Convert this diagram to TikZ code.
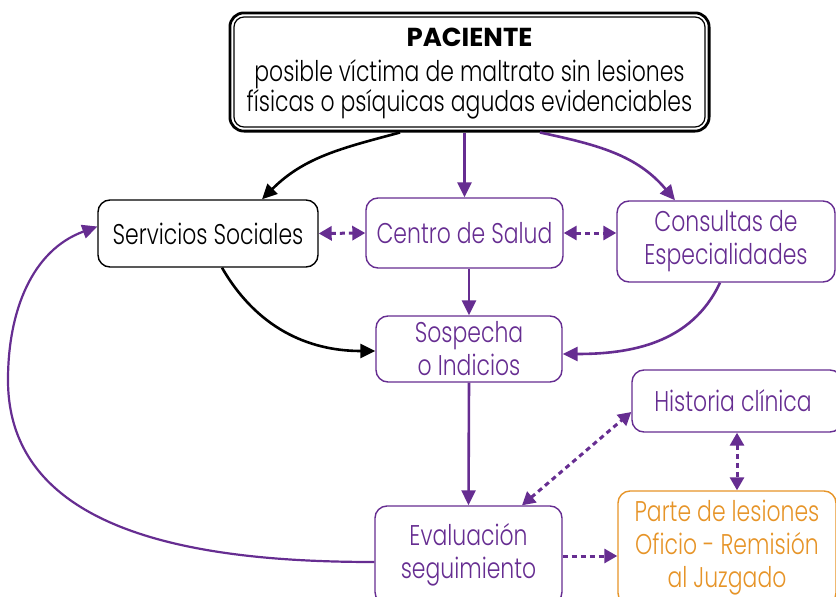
\documentclass[tikz,border=0pt]{standalone}
\usepackage{fontspec}
\setmainfont{Poppins}[UprightFont={* Light},BoldFont={* Bold},FakeStretch=0.77]
\newfontfamily\pacfont{Poppins}[UprightFont={* Bold}]
\usetikzlibrary{arrows.meta,fit,calc}
\definecolor{pur}{RGB}{102,45,145}
\definecolor{org}{RGB}{230,148,40}
\tikzset{
  box/.style={draw=pur,text=pur,line width=1.4pt,rounded corners=12pt,align=center,inner sep=0pt,font=\fontsize{28.5}{33}\selectfont},
  bbox/.style={box,draw=black,text=black},
  obox/.style={box,draw=org,text=org},
  arr/.style={line width=2.6pt,-{Triangle[length=15pt,width=14pt]}},
  darr/.style={line width=3pt,dash pattern=on 5pt off 4pt,{Triangle[length=13pt,width=14pt]}-{Triangle[length=13pt,width=14pt]}},
  sarr/.style={line width=3pt,dash pattern=on 5pt off 4pt,-{Triangle[length=13pt,width=14pt]}},
}
\begin{document}
\begin{tikzpicture}[x=1pt,y=-1pt]
\useasboundingbox (0,0) rectangle (836,597);
\node[bbox,rounded corners=10pt,line width=1.2pt,minimum width=471pt,minimum height=110pt] (pac) at (469.5,72) {};
\node[align=center,inner sep=0pt,font=\fontsize{28.5}{33}\selectfont] (pactxt) at (469.5,74)
  {{\pacfont\fontsize{26}{30}\selectfont PACIENTE}\\[2pt]posible víctima de maltrato sin lesiones\\[-3pt]físicas o psíquicas agudas evidenciables};
\node[fit=(pac),draw,line width=2.8pt,rounded corners=14pt,inner sep=3.5pt] (pacout) {};
\node[bbox,minimum width=220pt,minimum height=67pt] (ss) at (208,233.5) {Servicios Sociales};
\node[box,minimum width=197pt,minimum height=70pt] (cs) at (464.5,233) {Centro de Salud};
\node[box,minimum width=218pt,minimum height=81pt] (ce) at (726,241.5) {Consultas de\\Especialidades};
\node[box,minimum width=186pt,minimum height=66pt] (so) at (469,349) {Sospecha\\o Indicios};
\node[box,minimum width=210pt,minimum height=62pt] (hc) at (737,401) {\hspace*{-8pt}Historia clínica};
\node[box,minimum width=187pt,minimum height=98pt] (ev) at (468.5,555) {Evaluación\\seguimiento};
\node[obox,minimum width=218pt,minimum height=114pt] (pl) at (727,548) {Parte de lesiones\\Oficio - Remisión\\al Juzgado};
% connectors
\draw[arr,black] ([xshift=-69.5pt]pacout.south) to[out=195,in=45] ([xshift=54pt]ss.north);
\draw[arr,pur] (cs.north |- pacout.south) -- (cs.north);
\draw[arr,pur] ([xshift=70.5pt]pacout.south) to[out=-12,in=130] ([xshift=-51pt]ce.north);
\draw[darr,pur] (ss.east) -- (cs.west);
\draw[darr,pur] (cs.east) -- (cs.east -| ce.west);
\draw[arr,pur] (so.north |- cs.south) -- (so.north);
\draw[arr,black] ([xshift=14pt]ss.south) to[out=-60,in=180] ([yshift=-2pt]so.west);
\draw[arr,pur] ([xshift=-6pt]ce.south) to[out=-115,in=0] ([yshift=-5pt]so.east);
\draw[arr,pur] (so.south) -- (ev.north);
\draw[darr,pur] ([xshift=53.5pt]ev.north) -- ([yshift=-11pt]hc.west);
\draw[darr,pur] (hc.south) -- (hc.south |- pl.north);
\draw[sarr,pur] ([yshift=-1pt]ev.east) -- ([yshift=-1pt]ev.east -| pl.west);
\draw[arr,pur,line width=2.2pt] ([yshift=-7pt]ev.west) to[out=180,in=-90] (8,380) to[out=90,in=200] ([yshift=7pt]ss.west);
\end{tikzpicture}
\end{document}
